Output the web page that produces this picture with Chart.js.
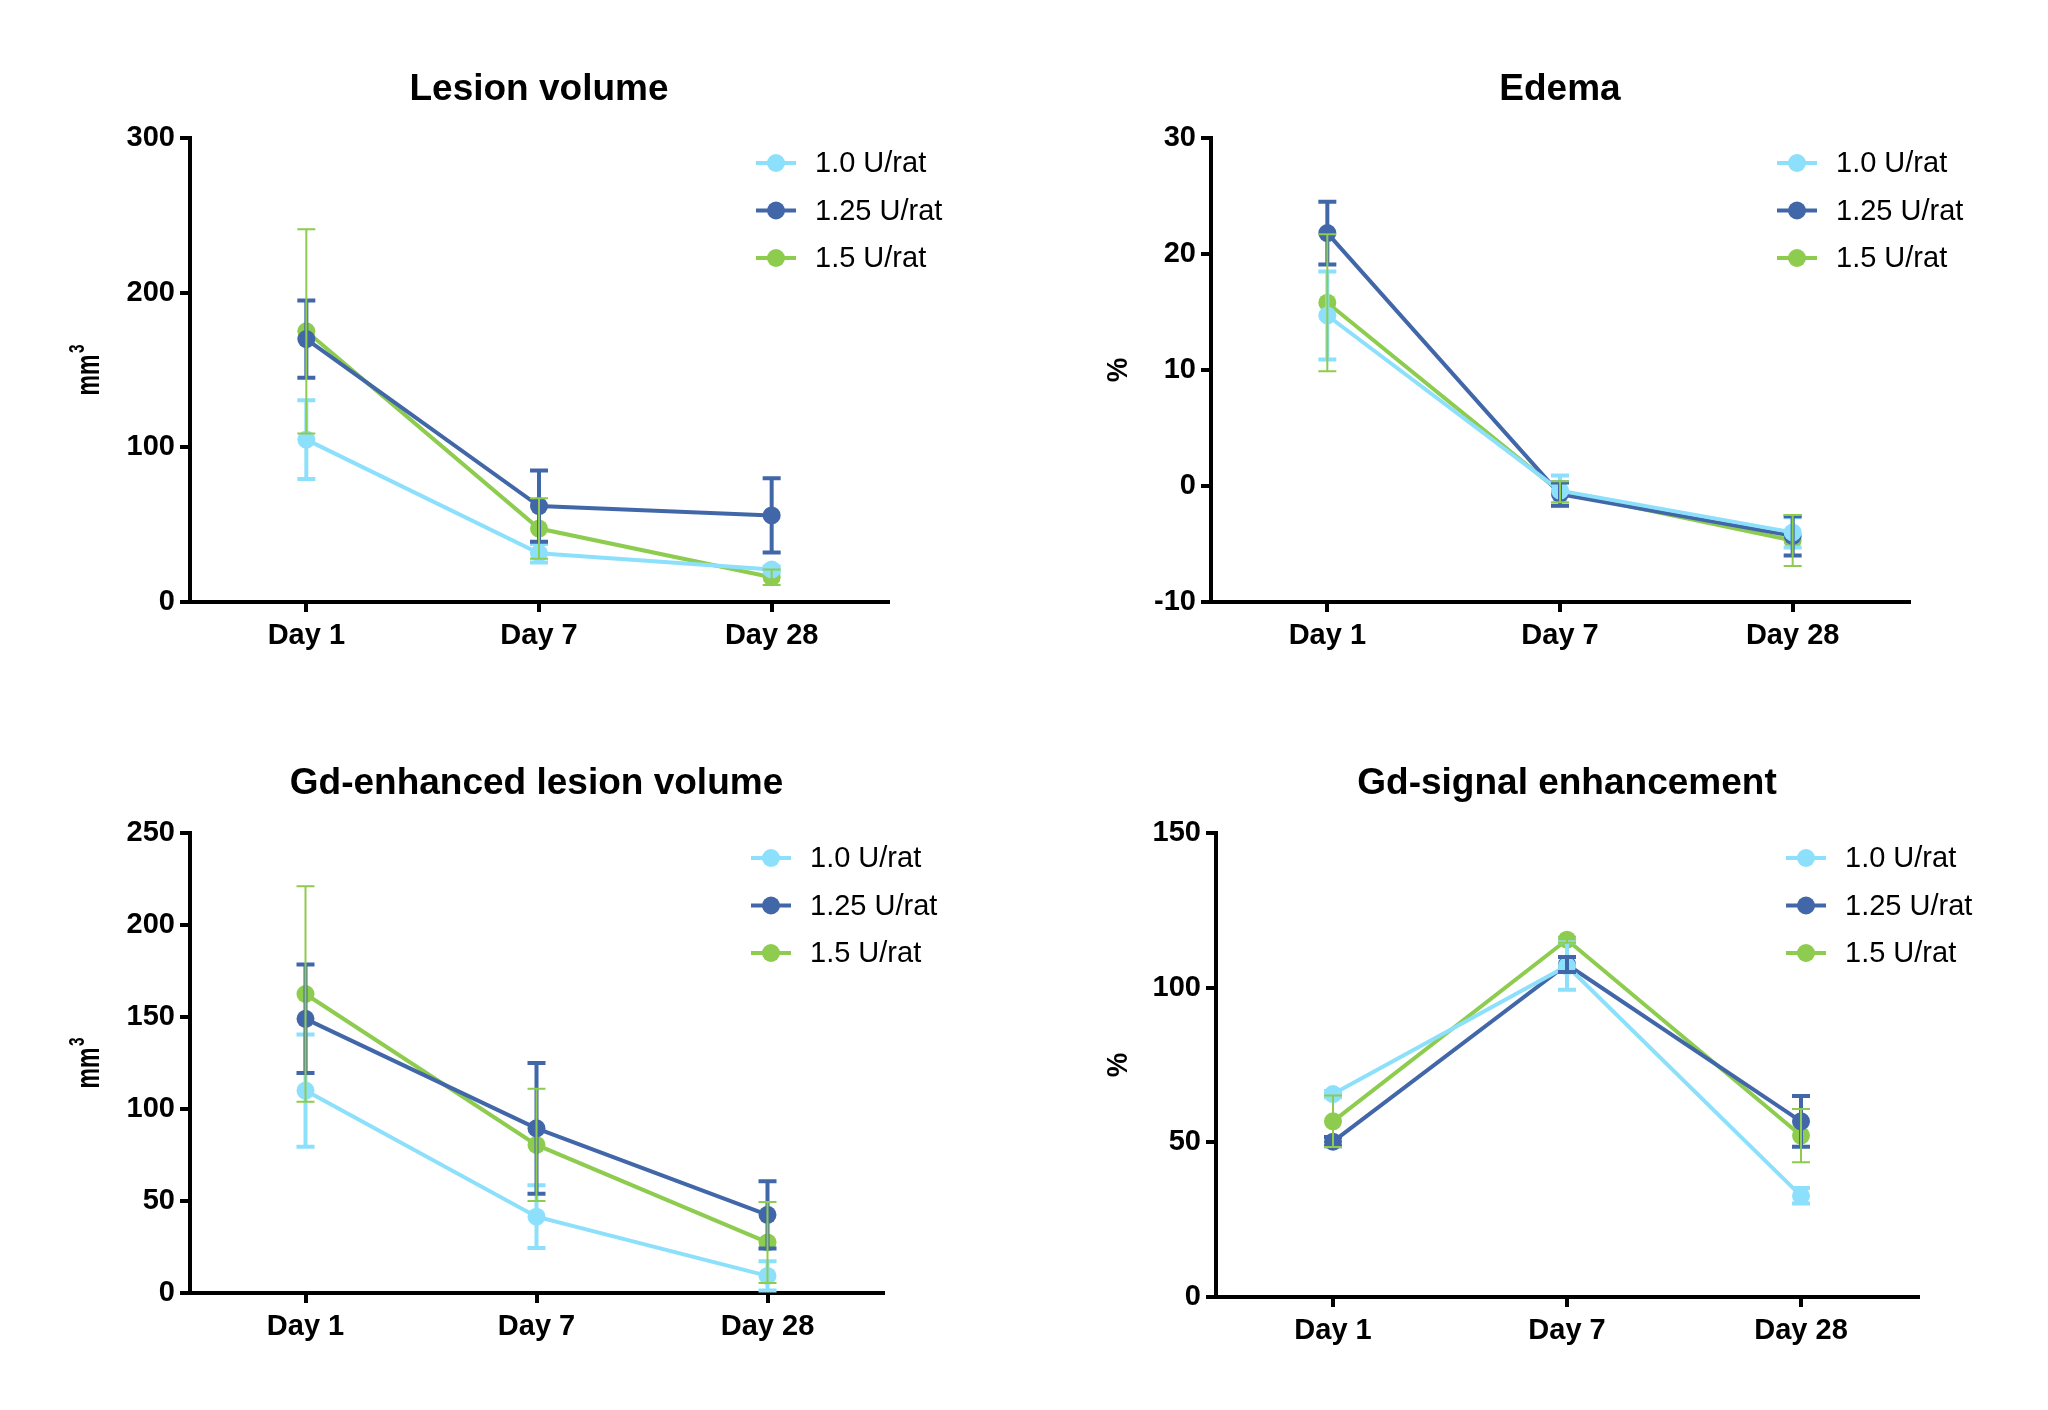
<!DOCTYPE html>
<html>
<head>
<meta charset="utf-8">
<script src="https://cdn.jsdelivr.net/npm/chart.js@4.4.1/dist/chart.umd.min.js"></script>
<style>
  body { margin: 0; background: #fff; }
  #wrap { position: relative; width: 2048px; height: 1410px; }
  .panel { position: absolute; width: 1024px; height: 705px; }
</style>
</head>
<body>
<div id="wrap">
  <div class="panel" style="left:0;top:0"><canvas id="lesion" width="1024" height="705"></canvas></div>
  <div class="panel" style="left:1024px;top:0"><canvas id="edema" width="1024" height="705"></canvas></div>
  <div class="panel" style="left:0;top:705px"><canvas id="gdvol" width="1024" height="705"></canvas></div>
  <div class="panel" style="left:1024px;top:705px"><canvas id="gdsig" width="1024" height="705"></canvas></div>
</div>
<script>
// categories + series names
const days = ['Day 1', 'Day 7', 'Day 28'];
const doses = ['1.0 U/rat', '1.25 U/rat', '1.5 U/rat'];

// Lesion volume (mm3), mean and SD
const lesion10 = [105, 31.5, 21];
const lesion10Sd = [25.5, 6, 2];
const lesion125 = [170, 62, 56];
const lesion125Sd = [25, 23, 24];
const lesion15 = [175, 47.5, 16];
const lesion15Sd = [66, 19.5, 5];

// Edema (%)
const edema10 = [14.7, -0.4, -4.0];
const edema10Sd = [3.8, 1.3, 1.3];
const edema125 = [21.8, -0.7, -4.3];
const edema125Sd = [2.7, 1.0, 1.7];
const edema15 = [15.8, -0.5, -4.7];
const edema15Sd = [5.9, 0.9, 2.2];

// Gd-enhanced lesion volume (mm3)
const gdVol10 = [110, 41.5, 9.3];
const gdVol10Sd = [30.5, 17, 8];
const gdVol125 = [149, 89.5, 42.5];
const gdVol125Sd = [29.5, 35.5, 18.3];
const gdVol15 = [162.5, 80.5, 27.5];
const gdVol15Sd = [58.5, 30.5, 22];

// Gd-signal enhancement (%)
const gdSig10 = [65.6, 107, 32.7];
const gdSig10Sd = [1, 7.7, 2.5];
const gdSig125 = [50.2, 107.5, 56.8];
const gdSig125Sd = [1.5, 2.4, 8.2];
const gdSig15 = [56.8, 115.5, 52.2];
const gdSig15Sd = [8.3, 1, 8.6];

const colors = ['#8ce0fb', '#4267a9', '#8dcc4e'];
const errWidths = [4, 4, 2];
const FONT = '"Liberation Sans", Arial, sans-serif';

Chart.defaults.font.family = FONT;
Chart.defaults.color = '#000';

// error bars: vertical line + caps, from dataset.errors
const errorBars = {
  id: 'errorBars',
  afterDatasetsDraw(chart) {
    const ctx = chart.ctx;
    const y = chart.scales.y;
    chart.data.datasets.forEach((ds, i) => {
      const meta = chart.getDatasetMeta(i);
      ctx.save();
      ctx.strokeStyle = ds.borderColor;
      ctx.lineWidth = ds.errWidth;
      meta.data.forEach((pt, j) => {
        const top = y.getPixelForValue(ds.data[j] + ds.errors[j]);
        const bot = y.getPixelForValue(ds.data[j] - ds.errors[j]);
        ctx.beginPath();
        ctx.moveTo(pt.x, top); ctx.lineTo(pt.x, bot);
        ctx.moveTo(pt.x - 9, top); ctx.lineTo(pt.x + 9, top);
        ctx.moveTo(pt.x - 9, bot); ctx.lineTo(pt.x + 9, bot);
        ctx.stroke();
      });
      ctx.restore();
    });
  }
};

// legend inside the plot, top right
const innerLegend = {
  id: 'innerLegend',
  afterDraw(chart) {
    const ctx = chart.ctx;
    const a = chart.chartArea;
    ctx.save();
    ctx.font = '29px ' + FONT;
    ctx.textBaseline = 'middle';
    chart.data.datasets.forEach((ds, i) => {
      const cy = a.top + 25 + i * 47.5;
      const cx = a.right - 112;
      ctx.strokeStyle = ds.borderColor;
      ctx.lineWidth = 4;
      ctx.beginPath();
      ctx.moveTo(cx - 20, cy); ctx.lineTo(cx + 20, cy);
      ctx.stroke();
      ctx.fillStyle = ds.borderColor;
      ctx.beginPath();
      ctx.arc(cx, cy, 9, 0, Math.PI * 2);
      ctx.fill();
      ctx.fillStyle = '#000';
      ctx.fillText(ds.label, a.right - 73, cy + 1);
    });
    ctx.restore();
  }
};

// rotated y title with optional superscript
const yTitle = {
  id: 'yTitle',
  afterDraw(chart, args, opts) {
    const ctx = chart.ctx;
    const a = chart.chartArea;
    ctx.save();
    ctx.translate(opts.x, (a.top + a.bottom) / 2);
    ctx.rotate(-Math.PI / 2);
    ctx.scale(opts.squeeze, 1);
    ctx.fillStyle = '#000';
    ctx.textBaseline = 'alphabetic';
    const main = 'bold ' + opts.size + 'px ' + FONT;
    const small = 'bold ' + Math.round(opts.size * 0.68) + 'px ' + FONT;
    ctx.font = main;
    const wMain = ctx.measureText(opts.text).width;
    let wSup = 0;
    if (opts.sup) {
      ctx.font = small;
      wSup = ctx.measureText(opts.sup).width + 2;
    }
    const start = -(wMain + wSup) / 2;
    ctx.font = main;
    ctx.fillText(opts.text, start, opts.base);
    if (opts.sup) {
      ctx.font = small;
      ctx.fillText(opts.sup, start + wMain + 2, opts.base - opts.size * 0.45);
    }
    ctx.restore();
  }
};

function makeChart(id, title, yOpts, yMin, yMax, yStep, series, sds, box) {
  const datasets = series.map((s, i) => ({
    label: doses[i],
    data: s,
    errors: sds[i],
    errWidth: errWidths[i],
    borderColor: colors[i],
    backgroundColor: colors[i],
    pointBackgroundColor: colors[i],
    borderWidth: 4,
    pointRadius: 9,
    pointBorderWidth: 0,
    pointHoverRadius: 9,
    tension: 0,
    clip: false
  }));
  const titleTop = box.titleY - 22;
  const padLeft = 20;
  return new Chart(document.getElementById(id), {
    type: 'line',
    data: { labels: days, datasets: datasets },
    plugins: [errorBars, innerLegend, yTitle],
    options: {
      responsive: false,
      animation: false,
      events: [],
      layout: {
        padding: { left: padLeft, right: 1024 - box.right, top: titleTop, bottom: 705 - box.bottom - 60 }
      },
      plugins: {
        legend: { display: false },
        tooltip: { enabled: false },
        title: {
          display: true,
          text: title,
          fullSize: false,
          font: { size: 37, weight: 'bold' },
          color: '#000',
          padding: { top: 0, bottom: box.top - titleTop - 44.4 }
        },
        yTitle: yOpts
      },
      scales: {
        x: {
          offset: true,
          afterFit: (s) => { s.height = 60; },
          grid: { display: true, drawOnChartArea: false, offset: false, tickLength: 10, lineWidth: 4, color: '#000' },
          border: { color: '#000', width: 4 },
          ticks: { font: { size: 29, weight: 'bold' }, color: '#000', padding: 7, maxRotation: 0 }
        },
        y: {
          min: yMin,
          max: yMax,
          afterFit: (s) => { s.width = box.left - padLeft; },
          grid: { display: true, drawOnChartArea: false, tickLength: 10, lineWidth: 4, color: '#000' },
          border: { color: '#000', width: 4 },
          ticks: { stepSize: yStep, font: { size: 29, weight: 'bold' }, color: '#000', padding: 5 }
        }
      }
    }
  });
}

const mmTitle = { x: 90, text: 'mm', sup: '3', size: 33, squeeze: 0.7, base: 9 };
const pctTitle = { x: 93, text: '%', sup: '', size: 29, squeeze: 0.95, base: 10 };

makeChart('lesion', 'Lesion volume', mmTitle, 0, 300, 100,
  [lesion10, lesion125, lesion15], [lesion10Sd, lesion125Sd, lesion15Sd],
  { left: 190, top: 138, right: 888, bottom: 602, titleY: 90 });

makeChart('edema', 'Edema', pctTitle, -10, 30, 10,
  [edema10, edema125, edema15], [edema10Sd, edema125Sd, edema15Sd],
  { left: 187, top: 138, right: 885, bottom: 602, titleY: 90 });

makeChart('gdvol', 'Gd-enhanced lesion volume', mmTitle, 0, 250, 50,
  [gdVol10, gdVol125, gdVol15], [gdVol10Sd, gdVol125Sd, gdVol15Sd],
  { left: 190, top: 128, right: 883, bottom: 588, titleY: 79 });

makeChart('gdsig', 'Gd-signal enhancement', pctTitle, 0, 150, 50,
  [gdSig10, gdSig125, gdSig15], [gdSig10Sd, gdSig125Sd, gdSig15Sd],
  { left: 192, top: 128, right: 894, bottom: 592, titleY: 79 });
</script>
</body>
</html>
